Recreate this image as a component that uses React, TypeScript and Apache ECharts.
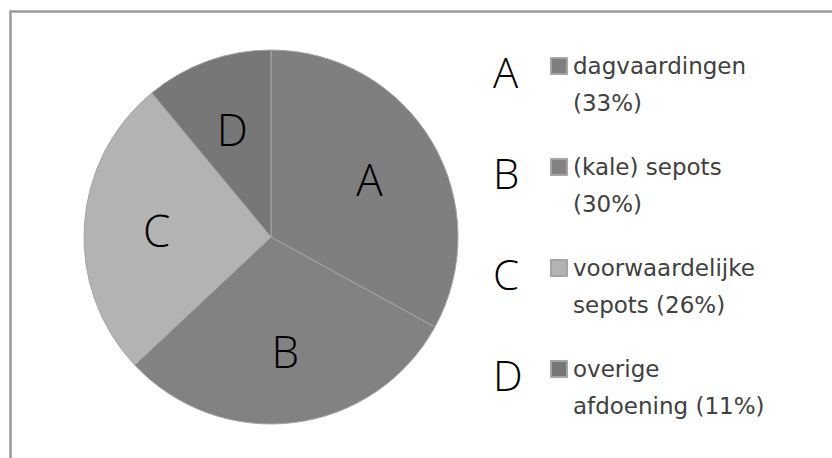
import React, { useEffect, useRef } from "react";
import * as echarts from "echarts";

const letters = ["A", "B", "C", "D"];
const names = ["dagvaardingen", "(kale) sepots", "voorwaardelijke sepots", "overige afdoening"];
const legendLines = [
  ["dagvaardingen", "(33%)"],
  ["(kale) sepots", "(30%)"],
  ["voorwaardelijke", "sepots (26%)"],
  ["overige", "afdoening (11%)"],
];
const values = [33, 30, 26, 11];
const colors = ["#7f7f7f", "#828282", "#b3b3b3", "#777777"];

export default function App() {
  const ref = useRef<HTMLDivElement>(null);
  useEffect(() => {
    if (!ref.current) return;
    const chart = echarts.init(ref.current, null, { renderer: "svg" });
    const data = names.map((n, i) => ({
      name: n,
      value: values[i],
      itemStyle: { color: colors[i] },
    }));
    const legendStep = 101;
    const font = "'Open Sans', 'DejaVu Sans', sans-serif";
    const legendFont = "'DejaVu Sans', sans-serif";
    chart.setOption({
      animation: false,
      backgroundColor: "#ffffff",
      legend: {
        orient: "vertical",
        left: 545,
        top: 3.5,
        itemWidth: 16,
        itemHeight: 16,
        itemGap: -14,
        icon: "rect",
        selectedMode: false,
        data: names,
        formatter: (name: string) => {
          const i = names.indexOf(name);
          return " \n" + legendLines[i].join("\n");
        },
        textStyle: {
          fontFamily: legendFont,
          fontSize: 23,
          lineHeight: 37,
          color: "#404040",
          padding: [4, 0, 0, 1],
        },
      },
      graphic: [
        {
          type: "rect",
          silent: true,
          shape: { x: 10.5, y: 11.5, width: 840, height: 460 },
          style: { fill: "none", stroke: "#9a9a9a", lineWidth: 2.5 },
        },
        ...letters.map((l, i) => ({
          type: "text",
          silent: true,
          left: 493,
          top: 50 + i * legendStep,
          style: {
            text: l,
            font: `300 42px ${font}`,
            fill: "#000000",
          },
        })),
      ],
      series: [
        {
          type: "pie",
          center: [271, 237],
          radius: 187,
          startAngle: 90,
          clockwise: true,
          silent: true,
          data,
          label: { show: false },
          labelLine: { show: false },
          itemStyle: { borderColor: "#a5a5a5", borderWidth: 1 },
        },
        {
          type: "pie",
          center: [271, 237],
          radius: [36, 187],
          startAngle: 90,
          clockwise: true,
          silent: true,
          data: names.map((n, i) => ({ name: n, value: values[i] })),
          itemStyle: { color: "rgba(0,0,0,0)", borderWidth: 0 },
          label: {
            show: true,
            position: "inside",
            formatter: (p: any) => letters[p.dataIndex],
            fontFamily: font,
            fontWeight: 300,
            fontSize: 44,
            color: "#000000",
          },
          labelLine: { show: false },
        },
      ],
    });
    return () => chart.dispose();
  }, []);
  return (
    <div
      ref={ref}
      style={{ position: "fixed", left: 0, top: 0, width: 832, height: 458 }}
    />
  );
}
